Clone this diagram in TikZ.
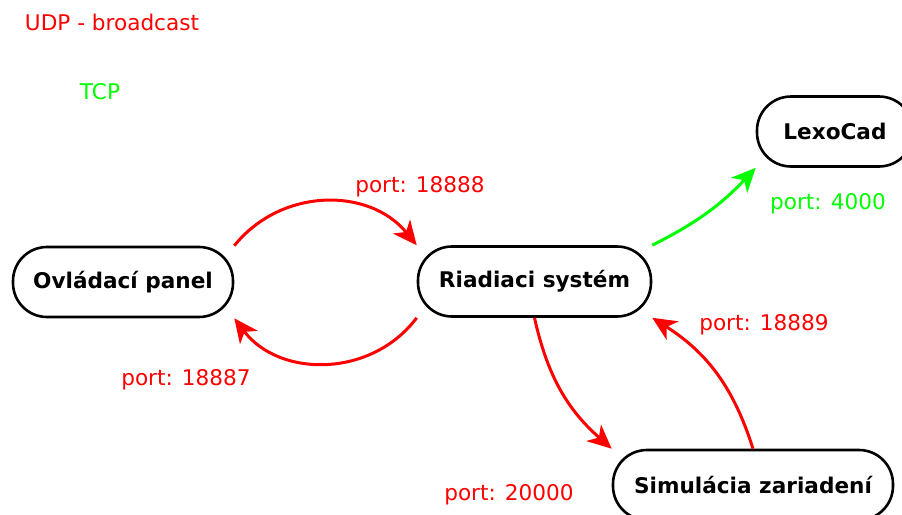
\documentclass[tikz,border=0pt]{standalone}
\usepackage{fontspec}
\setmainfont{DejaVu Sans}
\usetikzlibrary{arrows.meta}
\definecolor{udp}{RGB}{255,0,0}
\definecolor{tcp}{RGB}{0,255,0}
\begin{document}
\begin{tikzpicture}[x=0.5pt,y=-0.5pt,
  box/.style={draw=black, line width=1.3pt, rounded corners=17pt, minimum height=35pt, inner sep=0pt, font=\fontsize{10.8}{13}\selectfont\bfseries, fill=white},
  lbl/.style={font=\fontsize{10.8}{13}\selectfont, inner sep=0pt},
  conn/.style={line width=1.5pt, -{Stealth[length=12pt,width=11pt,inset=3.5pt]}},
  udpc/.style={conn, draw=udp},
  tcpc/.style={conn, draw=tcp}]
\useasboundingbox (0,0) rectangle (902,515);
\clip (0,0) rectangle (902,515);
\node[box, minimum width=110pt] (ovl) at (123,282) {Ovládací panel};
\node[box, minimum width=116.5pt] (ria) at (534.5,281.5) {Riadiaci systém};
\node[box, minimum width=78pt] (lexo) at (835,131.5) {LexoCad};
\node[box, minimum width=140pt] (sim) at (753,485) {Simulácia zariadení};
\node[lbl, text=udp] (udplbl) at (112,22) {UDP - broadcast};
\node[lbl, text=tcp] (tcplbl) at (100,92) {TCP};
\node[lbl, text=udp] (p18888) at (420,187) {port: 18888};
\node[lbl, text=udp] (p18887) at (186,380) {port: 18887};
\node[lbl, text=udp] (p20000) at (509,495) {port: 20000};
\node[lbl, text=udp] (p18889) at (764,325) {port: 18889};
\node[lbl, text=tcp] (p4000) at (828,204) {port: 4000};
\draw[udpc] (ovl.north east) to[bend left=51, looseness=1.05] (ria.north west);
\draw[udpc] (ria.south west) to[bend left=53, looseness=1.05] (ovl.south east);
\draw[udpc] (ria.south) to[bend right=18] (sim.north west);
\draw[udpc] (sim.north) to[bend right=20] (ria.south east);
\draw[tcpc] (ria.north east) to[bend right=10] (lexo.south west);
\end{tikzpicture}
\end{document}
